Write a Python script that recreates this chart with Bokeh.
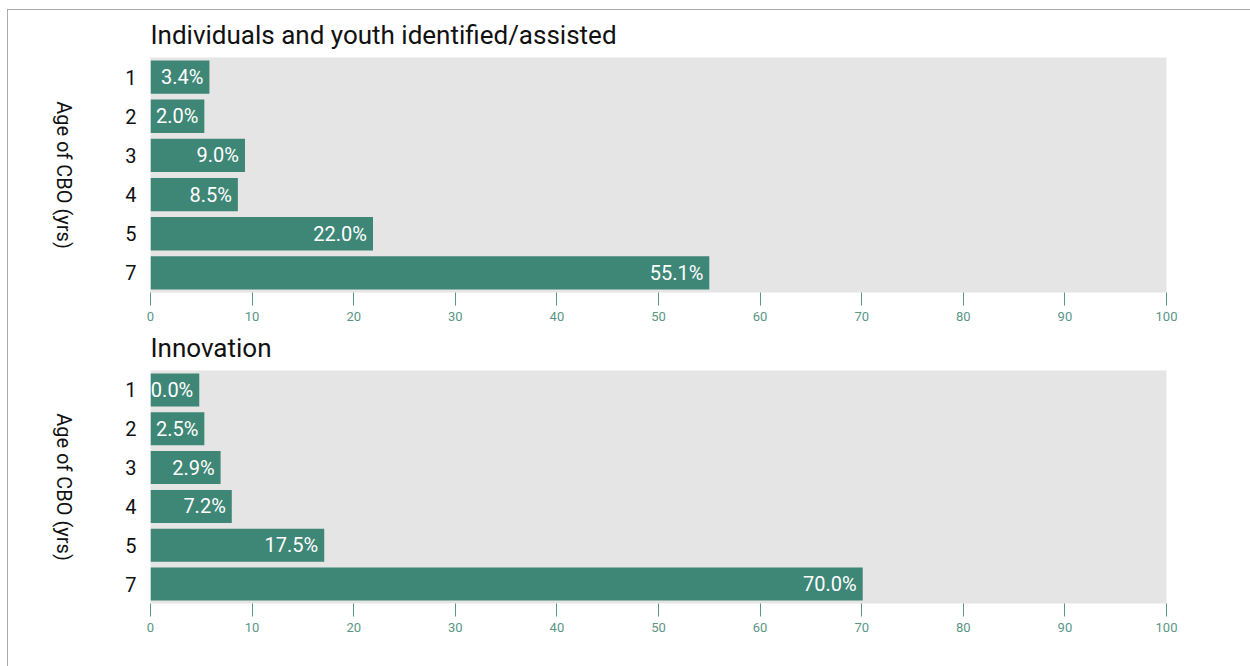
import math
from bokeh.plotting import figure
from bokeh.models import FactorRange, Range1d, FixedTicker
from bokeh.layouts import column, row
from bokeh.core.properties import value
from bokeh.embed import file_html
from bokeh.resources import INLINE

categories = ["1", "2", "3", "4", "5", "7"]
x_ticks = [0, 10, 20, 30, 40, 50, 60, 70, 80, 90, 100]

title_1 = "Individuals and youth identified/assisted"
indiv_bar = [5.8, 5.3, 9.3, 8.6, 21.9, 55.0]
indiv_labels = ["3.4%", "2.0%", "9.0%", "8.5%", "22.0%", "55.1%"]

title_2 = "Innovation"
innov_bar = [4.8, 5.3, 6.9, 8.0, 17.1, 70.1]
innov_labels = ["0.0%", "2.5%", "2.9%", "7.2%", "17.5%", "70.0%"]

y_label = "Age of CBO (yrs)"

BAR = "#3e8676"
TEAL = "#5a9686"
BG = "#e5e5e5"
FONT = "Roboto"
LABEL_W = 100


def label_panel(height, top, bottom):
    q = figure(width=LABEL_W, height=height, output_backend="svg", toolbar_location=None,
               x_range=Range1d(0, 1), y_range=Range1d(0, 1),
               x_axis_location=None, y_axis_location=None,
               min_border_left=0, min_border_right=0,
               min_border_top=top, min_border_bottom=bottom)
    q.outline_line_color = None
    q.xgrid.visible = False
    q.ygrid.visible = False
    q.background_fill_color = "white"
    q.border_fill_color = "white"
    q.text(x=[0.55], y=[0.5], text=[y_label], angle=-math.pi / 2,
           text_align="center", text_baseline="middle", text_color="#111111",
           text_font_size="20px", text_font=value(FONT))
    return q


def make(title, bars, labels, height, top, bottom, standoff):
    p = figure(width=1242 - LABEL_W, height=height, output_backend="svg", toolbar_location=None,
               y_range=FactorRange(factors=list(reversed(categories)), range_padding=0),
               x_range=Range1d(0, 100),
               min_border_left=42, min_border_right=84,
               min_border_top=top, min_border_bottom=bottom)
    p.title.text = title
    p.title.text_font = FONT
    p.title.text_font_size = "26px"
    p.title.text_font_style = "normal"
    p.title.text_color = "#111111"
    p.title.standoff = standoff
    p.title.text_line_height = 1.0
    p.outline_line_color = None
    p.background_fill_color = BG
    p.border_fill_color = "white"
    p.xgrid.visible = False
    p.ygrid.visible = False

    p.hbar(y=categories, right=bars, left=0, height=0.85, color=BAR, line_color=None)
    p.text(x=bars, y=categories, text=labels, x_offset=-6, text_align="right",
           text_baseline="middle", text_color="white", text_font_size="20px",
           text_font=value(FONT))

    p.xaxis.ticker = FixedTicker(ticks=x_ticks)
    p.xaxis.axis_line_color = None
    p.xaxis.major_tick_in = 0
    p.xaxis.major_tick_out = 13
    p.xaxis.major_tick_line_color = TEAL
    p.xaxis.minor_tick_line_color = None
    p.xaxis.major_label_text_color = TEAL
    p.xaxis.major_label_text_font = FONT
    p.xaxis.major_label_text_font_size = "13px"
    p.xaxis.major_label_standoff = 6

    ax = p.yaxis[0]
    ax.axis_line_color = None
    ax.major_tick_line_color = None
    ax.minor_tick_line_color = None
    ax.major_label_text_font = FONT
    ax.major_label_text_font_size = "20px"
    ax.major_label_text_color = "#111111"
    ax.major_label_standoff = 8
    return row(label_panel(height, top, bottom), p)


r1 = make(title_1, indiv_bar, indiv_labels, 313, 47, 30, 15)
r2 = make(title_2, innov_bar, innov_labels, 343, 45, 63, 15)

layout = column(r1, r2, margin=(9, 0, 0, 7),
                styles={"border-top": "1px solid #aaaaaa", "border-left": "1px solid #aaaaaa"})

open("out.html", "w").write(file_html(layout, INLINE))
